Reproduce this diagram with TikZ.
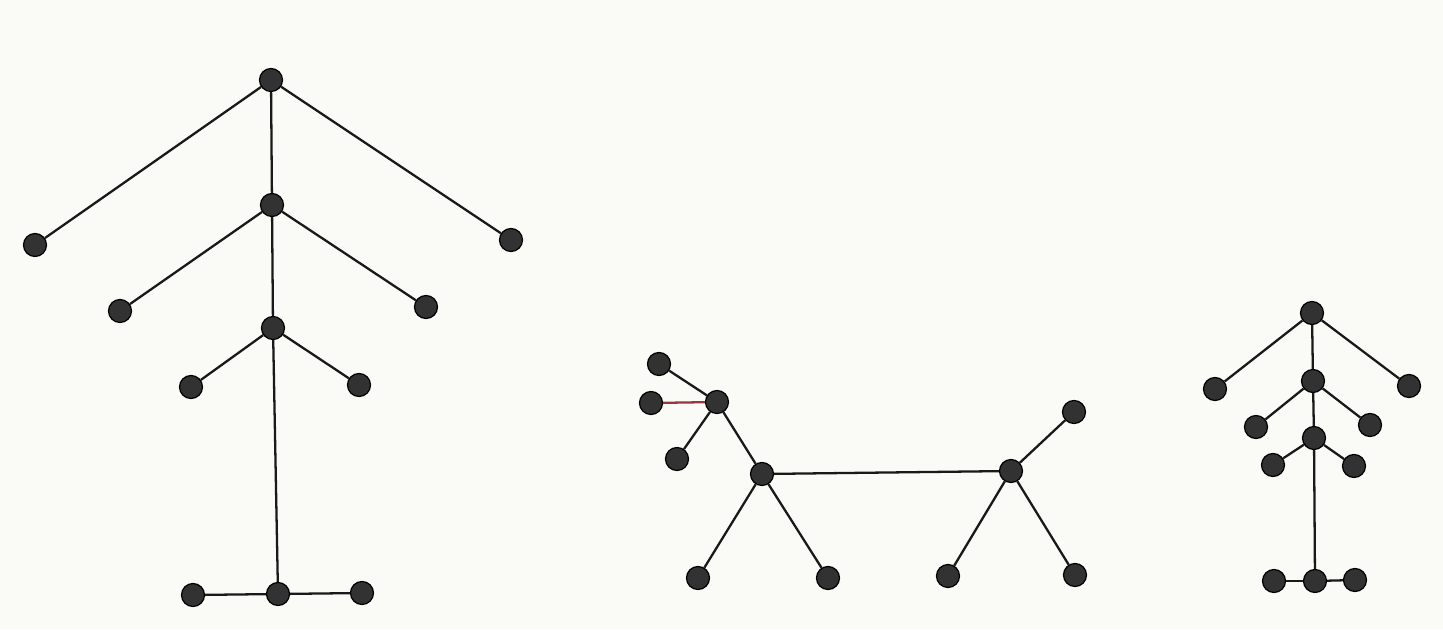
\documentclass[tikz,border=0pt]{standalone}
\usepackage{xcolor}
\usepackage{tikz}
\definecolor{paperwhite}{RGB}{250,250,246}
\definecolor{dotgray}{RGB}{50,50,50}
\definecolor{edgeblack}{RGB}{25,25,25}
\definecolor{edgered}{RGB}{150,55,65}
\tikzset{
    vertex/.style={
        circle,
        fill=dotgray,
        draw=black,
        line width=0.7pt,
        minimum size=0.46cm,
        inner sep=0pt
    },
    edge/.style={line width=1.3pt, draw=edgeblack},
    rededge/.style={line width=1.3pt, draw=edgered},
}
\begin{document}
\begin{tikzpicture}[x=0.02cm, y=-0.02cm]
    % Paper and bounding box
    \fill[paperwhite] (0,0) rectangle (1443,629);
    \useasboundingbox (0,0) rectangle (1443,629);

    % Tree 1 (tall)
    \node[vertex] (ta) at (271,80) {};
    \node[vertex] (tal) at (35,245) {};
    \node[vertex] (tar) at (511,240) {};
    \node[vertex] (tb) at (272,205) {};
    \node[vertex] (tbl) at (120,311) {};
    \node[vertex] (tbr) at (426,307) {};
    \node[vertex] (tc) at (273,328) {};
    \node[vertex] (tcl) at (191,387) {};
    \node[vertex] (tcr) at (359,385) {};
    \node[vertex] (td) at (278,594) {};
    \node[vertex] (tdl) at (193,595) {};
    \node[vertex] (tdr) at (362,593) {};

    % Tree 2 (dog)
    \node[vertex] (head) at (717,402) {};
    \node[vertex] (earup) at (659,364) {};
    \node[vertex] (earmid) at (651,403) {};
    \node[vertex] (chin) at (677,459) {};
    \node[vertex] (front) at (762,474) {};
    \node[vertex] (back) at (1011,471) {};
    \node[vertex] (tail) at (1074,412) {};
    \node[vertex] (legfl) at (698,578) {};
    \node[vertex] (legfr) at (828,578) {};
    \node[vertex] (legbl) at (948,576) {};
    \node[vertex] (legbr) at (1075,575) {};

    % Tree 3 (small)
    \node[vertex] (sa) at (1312,313) {};
    \node[vertex] (sal) at (1215,389) {};
    \node[vertex] (sar) at (1409,386) {};
    \node[vertex] (sb) at (1313,381) {};
    \node[vertex] (sbl) at (1256,427) {};
    \node[vertex] (sbr) at (1370,425) {};
    \node[vertex] (sc) at (1314,438) {};
    \node[vertex] (scl) at (1273,465) {};
    \node[vertex] (scr) at (1354,466) {};
    \node[vertex] (sd) at (1315,581) {};
    \node[vertex] (sdl) at (1274,581) {};
    \node[vertex] (sdr) at (1355,580) {};

    % Edges, tree 1
    \draw[edge] (ta) -- (tal);
    \draw[edge] (ta) -- (tar);
    \draw[edge] (ta) -- (tb);
    \draw[edge] (tb) -- (tbl);
    \draw[edge] (tb) -- (tbr);
    \draw[edge] (tb) -- (tc);
    \draw[edge] (tc) -- (tcl);
    \draw[edge] (tc) -- (tcr);
    \draw[edge] (tc) -- (td);
    \draw[edge] (td) -- (tdl);
    \draw[edge] (td) -- (tdr);

    % Edges, tree 2
    \draw[edge] (head) -- (earup);
    \draw[rededge] (head) -- (earmid);
    \draw[edge] (head) -- (chin);
    \draw[edge] (head) -- (front);
    \draw[edge] (front) -- (back);
    \draw[edge] (back) -- (tail);
    \draw[edge] (front) -- (legfl);
    \draw[edge] (front) -- (legfr);
    \draw[edge] (back) -- (legbl);
    \draw[edge] (back) -- (legbr);

    % Edges, tree 3
    \draw[edge] (sa) -- (sal);
    \draw[edge] (sa) -- (sar);
    \draw[edge] (sa) -- (sb);
    \draw[edge] (sb) -- (sbl);
    \draw[edge] (sb) -- (sbr);
    \draw[edge] (sb) -- (sc);
    \draw[edge] (sc) -- (scl);
    \draw[edge] (sc) -- (scr);
    \draw[edge] (sc) -- (sd);
    \draw[edge] (sd) -- (sdl);
    \draw[edge] (sd) -- (sdr);
\end{tikzpicture}
\end{document}
